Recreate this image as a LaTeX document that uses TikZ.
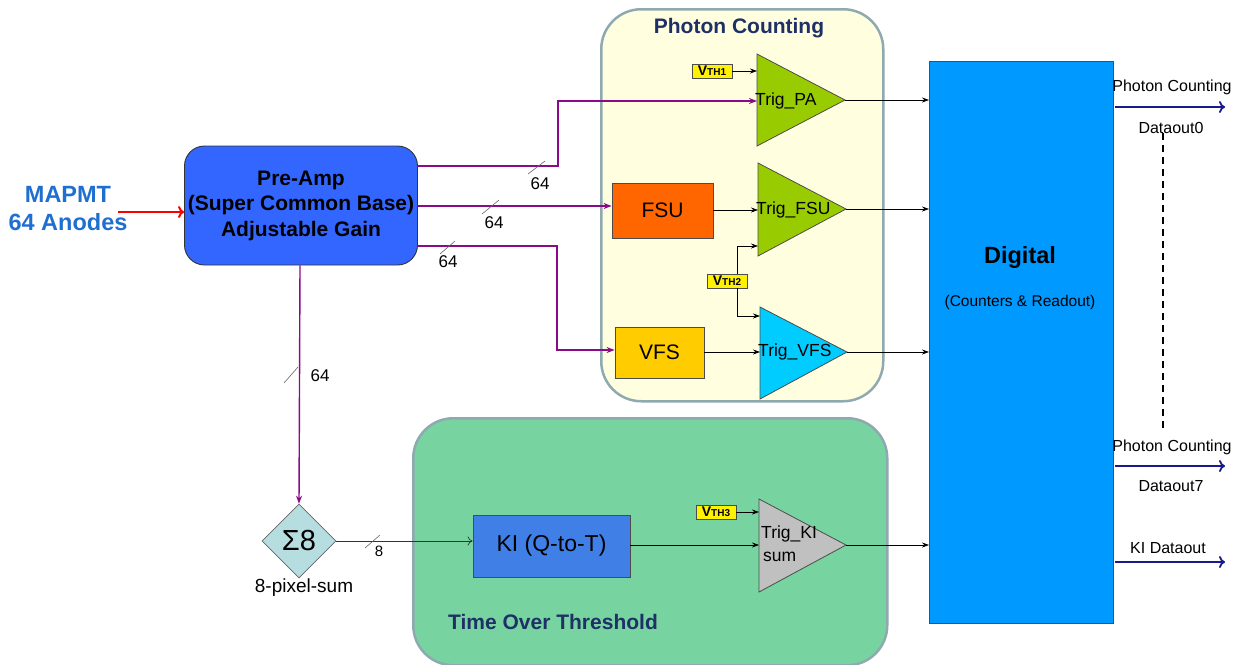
\documentclass[tikz,border=0pt]{standalone}
\usepackage{fontspec}
\setmainfont{Liberation Sans}
\usetikzlibrary{arrows.meta,shapes.geometric}
\definecolor{pcfill}{HTML}{FFFFE0}
\definecolor{frame}{HTML}{8FA9B0}
\definecolor{totfill}{HTML}{77D4A0}
\definecolor{digi}{HTML}{0099FF}
\definecolor{preamp}{HTML}{3366FF}
\definecolor{mapmt}{HTML}{1F6FD0}
\definecolor{navyt}{HTML}{1F3066}
\definecolor{purp}{HTML}{8A0A8A}
\definecolor{kibox}{HTML}{3F7FE6}
\definecolor{fsu}{HTML}{FF6600}
\definecolor{vfs}{HTML}{FFCC00}
\definecolor{trgreen}{HTML}{99CC00}
\definecolor{trcyan}{HTML}{00CCFF}
\definecolor{trgray}{HTML}{C0C0C0}
\definecolor{diam}{HTML}{B6DDE0}
\definecolor{outnavy}{HTML}{1A1A8A}
\newcommand{\fs}[1]{\fontsize{#1}{#1}\selectfont}
\newcommand{\vth}[1]{{\fs{14}V}{\fs{10}TH#1}}
\tikzset{
  region/.style={draw=frame,line width=2.5pt,rounded corners=40pt},
  blockbox/.style={draw=black!70,line width=0.8pt,inner sep=0pt},
  vthbox/.style={draw=black!70,fill=yellow,line width=0.6pt,inner sep=0.5pt,minimum width=40pt,minimum height=14pt,font=\bfseries},
  purpline/.style={draw=purp,line width=1.4pt,-{Stealth[length=8pt,width=6pt]}},
  sigline/.style={draw=black,line width=0.7pt,-{Stealth[length=7pt,width=5pt]}},
  trig/.style={draw=black!70,line width=0.8pt},
  outarrow/.style={draw=outnavy,line width=1.8pt,-{To[length=6pt,width=12pt]}},
  slash/.style={draw=black!60,line width=0.6pt},
  lbl/.style={font=\fs{17},inner sep=0pt},
  triglbl/.style={font=\fs{17.5},anchor=west,inner sep=0pt},
  outlbl/.style={font=\fs{16}},
}
\begin{document}
\begin{tikzpicture}[x=1pt,y=-1pt]
\useasboundingbox (0,0) rectangle (1246,664);
% regions
\node[region,fill=pcfill,minimum width=282pt,minimum height=392pt,anchor=north west] (pcreg) at (600,8) {};
\node[font=\fs{21}\bfseries,text=navyt] (pctitle) at (739,28) {Photon Counting};
\node[region,fill=totfill,minimum width=474pt,minimum height=247pt,anchor=north west] (totreg) at (412,417) {};
\node[font=\fs{21}\bfseries,text=navyt] (tottitle) at (553,622) {Time Over Threshold};
% digital
\node[blockbox,fill=digi,minimum width=184pt,minimum height=562pt,anchor=north west] (dig) at (929,61) {};
\node[font=\fs{23.5}\bfseries] (digt) at (1020,257) {Digital};
\node[font=\fs{15.5}] (digs) at (1020,302) {(Counters \& Readout)};
% MAPMT
\node[font=\fontsize{23.5}{28}\selectfont\bfseries,text=mapmt,align=center] (mapmt) at (68,209) {MAPMT\\64 Anodes};
% preamp
\node[draw=black!80,line width=0.9pt,fill=preamp,rounded corners=20pt,minimum width=232pt,minimum height=119pt,font=\fontsize{21}{25.5}\selectfont\bfseries,align=center] (pre) at (301,205.5) {Pre-Amp\\(Super Common Base)\\Adjustable Gain};
\coordinate (mapin) at (118,212);
\draw[draw=red,line width=2pt,-{To[length=6pt,width=12pt]}] (mapin) -- (pre.west |- mapin);
% blocks
\node[blockbox,fill=fsu,minimum width=101pt,minimum height=55pt,font=\fs{21}] (fsu) at (662.5,210.5) {FSU};
\node[blockbox,fill=vfs,minimum width=89pt,minimum height=51pt,font=\fs{21}] (vfs) at (659.5,352.5) {VFS};
\node[blockbox,fill=kibox,minimum width=157pt,minimum height=62pt,font=\fs{23}] (ki) at (551.5,546) {KI (Q-to-T)};
% triangles
\coordinate (paL) at (757,100); \coordinate (paT) at (845,100);
\draw[trig,fill=trgreen] (757,54) -- (paT) -- (757,146) -- cycle;
\coordinate (fsL) at (758,210); \coordinate (fsT) at (846,209);
\draw[trig,fill=trgreen] (758,163) -- (fsT) -- (758,256) -- cycle;
\coordinate (vfL) at (760,352); \coordinate (vfT) at (847,352);
\draw[trig,fill=trcyan] (760,307) -- (vfT) -- (760,399) -- cycle;
\coordinate (kiL) at (759,545); \coordinate (kiT) at (846,545);
\draw[trig,fill=trgray] (759,499) -- (kiT) -- (759,592) -- cycle;
\node[triglbl] (pat) at (755,101) {Trig\_PA};
\node[triglbl] (fst) at (756,210) {Trig\_FSU};
\node[triglbl] (vft) at (758,352) {Trig\_VFS};
\node[triglbl] (kit1) at (761,534) {Trig\_KI};
\node[triglbl] (kit2) at (763,557) {sum};
% thresholds
\node[vthbox] (v1) at (712,71) {\vth{1}};
\node[vthbox] (v2) at (727,281) {\vth{2}};
\node[vthbox] (v3) at (716,512) {\vth{3}};
\coordinate (v1t) at (757,71);
\coordinate (v2a) at (758,246);
\coordinate (v2b) at (760,316);
\coordinate (v3t) at (759,512);
\draw[sigline] (v1) -- (v1t);
\draw[sigline] (v3) -- (v3t);
\draw[sigline] (v2.north -| 737,0) |- (v2a);
\draw[sigline] (v2.south -| 737,0) |- (v2b);
% signal arrows
\draw[sigline] (fsu.east |- fsL) -- (fsL);
\draw[sigline] (vfs.east |- vfL) -- (vfL);
\draw[sigline] (ki.east |- kiL) -- (kiL);
\draw[sigline] (paT) -- (dig.west |- paT);
\draw[sigline] (fsT) -- (dig.west |- fsT);
\draw[sigline] (vfT) -- (dig.west |- vfT);
\draw[sigline] (kiT) -- (dig.west |- kiT);
% purple buses
\coordinate (p1) at (417,166);
\coordinate (p2) at (417,206);
\coordinate (p3) at (417,246);
\draw[purpline] (p1) -- (558,166) -- (558,101) -- (paL |- 0,101);
\draw[purpline] (p2) -- (fsu.west |- p2);
\draw[purpline] (p3) -- (557,246) -- (557,350) -- (vfs.west |- 0,350);
% diamond
\node[diamond,draw=black!60,line width=0.6pt,fill=diam,minimum width=74pt,minimum height=74pt,inner sep=0pt,font=\fs{29}] (sum) at (299,541) {Σ8};
\node[font=\fs{19}] (sumt) at (304,588) {8-pixel-sum};
\draw[purpline] (pre.south -| 300,0) -- (sum.north);
\draw[draw=black!80,line width=0.7pt,-{To[length=5pt,width=9pt]}] (sum.east) -- (ki.west |- sum.east);
% slashes and labels
\draw[slash] (528,174) -- (545,161);
\node[lbl] (l1) at (540,184) {64};
\draw[slash] (482,214) -- (499,200);
\node[lbl] (l2) at (494,223) {64};
\draw[slash] (440,254) -- (455,241);
\node[lbl] (l3) at (448,262) {64};
\draw[slash] (284,383) -- (298,367);
\node[lbl] (l4) at (320,376) {64};
\draw[slash] (365,548) -- (380,535);
\node[font=\fs{15},inner sep=0pt] (l5) at (379,551) {8};
% outputs
\coordinate (o1s) at (1115,107); \coordinate (o1e) at (1225,107);
\coordinate (o2s) at (1115,466); \coordinate (o2e) at (1225,466);
\coordinate (o3s) at (1115,562); \coordinate (o3e) at (1225,562);
\draw[outarrow] (o1s) -- (o1e);
\draw[outarrow] (o2s) -- (o2e);
\draw[outarrow] (o3s) -- (o3e);
\node[outlbl] (ot1) at (1172,87) {Photon Counting};
\node[outlbl] (ob1) at (1171,128) {Dataout0};
\node[outlbl] (ot2) at (1172,447) {Photon Counting};
\node[outlbl] (ob2) at (1171,486) {Dataout7};
\node[outlbl] (ot3) at (1168,548) {KI Dataout};
\coordinate (dashtop) at (1163,133);
\coordinate (dashbot) at (1163,430);
\draw[black,line width=1.3pt,dash pattern=on 7pt off 5pt] (dashtop) -- (dashbot);
\end{tikzpicture}
\end{document}
